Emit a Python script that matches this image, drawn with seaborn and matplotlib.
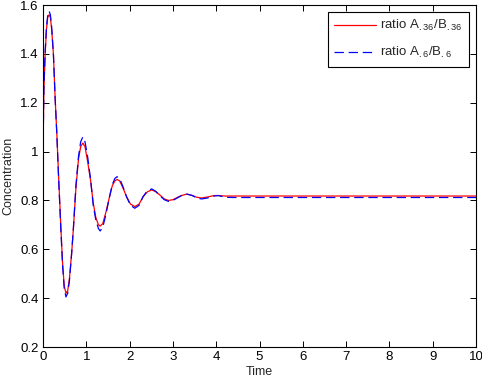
import matplotlib
matplotlib.use("Agg")
import matplotlib.pyplot as plt
import pandas as pd
import seaborn as sns

# values
time = [0.0, 0.02, 0.05, 0.08, 0.11, 0.14, 0.17, 0.20, 0.24, 0.28, 0.32, 0.36, 0.41, 0.45,
        0.49, 0.53, 0.57, 0.61, 0.66, 0.70, 0.76, 0.82, 0.87, 0.92, 0.97, 1.03, 1.10, 1.16,
        1.22, 1.28, 1.32, 1.38, 1.45, 1.53, 1.60, 1.66, 1.71, 1.77, 1.85, 1.93, 2.02, 2.12,
        2.22, 2.31, 2.41, 2.51, 2.60, 2.70, 2.80, 2.90, 3.00, 3.10, 3.20, 3.32, 3.45, 3.55,
        3.66, 3.80, 3.95, 4.05, 4.20, 4.40, 10.0]
ratio_36 = [1.00, 1.25, 1.40, 1.50, 1.55, 1.56, 1.55, 1.50, 1.40, 1.22, 1.07, 0.90, 0.70, 0.55,
            0.45, 0.42, 0.43, 0.48, 0.58, 0.68, 0.85, 0.97, 1.02, 1.035, 1.02, 0.96, 0.88, 0.79,
            0.73, 0.70, 0.695, 0.705, 0.75, 0.81, 0.86, 0.88, 0.886, 0.88, 0.85, 0.815, 0.785, 0.775,
            0.785, 0.815, 0.835, 0.843, 0.836, 0.822, 0.806, 0.80, 0.803, 0.812, 0.82, 0.826, 0.82, 0.813,
            0.81, 0.814, 0.82, 0.82, 0.818, 0.818, 0.818]
ratio_6 = [1.00, 1.26, 1.41, 1.51, 1.56, 1.575, 1.56, 1.51, 1.40, 1.22, 1.07, 0.89, 0.69, 0.54,
           0.44, 0.405, 0.42, 0.47, 0.58, 0.68, 0.86, 0.98, 1.04, 1.06, 1.04, 0.98, 0.885, 0.78,
           0.72, 0.685, 0.675, 0.69, 0.74, 0.81, 0.865, 0.89, 0.897, 0.89, 0.855, 0.815, 0.78, 0.768,
           0.78, 0.815, 0.84, 0.847, 0.838, 0.82, 0.803, 0.796, 0.80, 0.81, 0.82, 0.826, 0.82, 0.81,
           0.806, 0.81, 0.818, 0.82, 0.813, 0.812, 0.812]

series_labels = [r"ratio A$_{.36}$/B$_{.36}$", r"ratio A$_{.6}$/B$_{.6}$"]
x_ticks = list(range(0, 11))
y_ticks = [0.2, 0.4, 0.6, 0.8, 1.0, 1.2, 1.4, 1.6]
y_tick_labels = ["0.2", "0.4", "0.6", "0.8", "1", "1.2", "1.4", "1.6"]

sns.set_style("ticks")
plt.rcParams["font.family"] = ["Liberation Sans", "DejaVu Sans"]
plt.rcParams["mathtext.default"] = "regular"
plt.rcParams["font.size"] = 9

fig = plt.figure(figsize=(4.82, 3.80), dpi=100)
ax = fig.add_axes([43 / 482, 33 / 380, 433 / 482, 342 / 380])

df = pd.DataFrame({"time": time, "r36": ratio_36, "r6": ratio_6})
sns.lineplot(data=df, x="time", y="r36", ax=ax, color="#ff0000", linewidth=0.9,
             estimator=None, sort=False, label=series_labels[0])
sns.lineplot(data=df, x="time", y="r6", ax=ax, color="#0000ff", linewidth=0.9,
             linestyle=(0, (7.5, 3.8)), estimator=None, sort=False, label=series_labels[1])

ax.set_xlim(0, 10)
ax.set_ylim(0.2, 1.6)
ax.set_xticks(x_ticks)
ax.set_yticks(y_ticks)
ax.set_yticklabels(y_tick_labels)
ax.tick_params(direction="in", length=4, width=0.7, top=True, right=True,
               labelsize=9.5, colors="black", pad=3)
for s in ax.spines.values():
    s.set_visible(True)
    s.set_color("black")
    s.set_linewidth(0.8)
ax.set_xlabel("Time", fontsize=9, labelpad=2)
ax.set_ylabel("Concentration", fontsize=9, labelpad=4)

leg = ax.legend(loc="upper right", fancybox=False, edgecolor="black", framealpha=1,
                handlelength=3.2, handletextpad=0.3, borderaxespad=0.5, fontsize=9.5,
                labelspacing=0.9, borderpad=0.5)
leg.get_frame().set_linewidth(0.8)

fig.savefig("out.png", dpi=100)
